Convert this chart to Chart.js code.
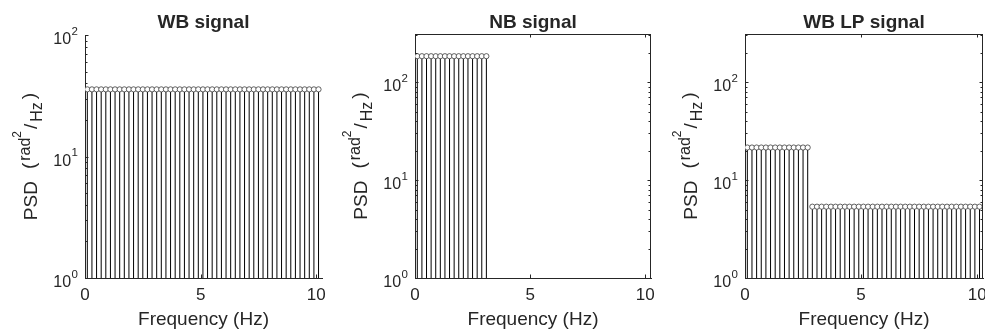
<!DOCTYPE html>
<html>
<head>
<meta charset="utf-8">
<script src="https://cdn.jsdelivr.net/npm/chart.js@4.4.0/dist/chart.umd.min.js"></script>
<style>
  body { margin: 0; background: #fff; }
  #wrap { position: relative; width: 985px; height: 331px; overflow: hidden; }
  canvas { position: absolute; top: 0; }
</style>
</head>
<body>
<div id="wrap">
  <canvas id="wb" width="330" height="331" style="left:0"></canvas>
  <canvas id="nb" width="330" height="331" style="left:330px"></canvas>
  <canvas id="lp" width="325" height="331" style="left:660px"></canvas>
</div>
<script>
// frequency bins (Hz)
var freq = [
  0.1, 0.3, 0.5, 0.7, 0.9, 1.1, 1.3, 1.5, 1.7, 1.9,
  2.1, 2.3, 2.5, 2.7, 2.9, 3.1, 3.3, 3.5, 3.7, 3.9,
  4.1, 4.3, 4.5, 4.7, 4.9, 5.1, 5.3, 5.5, 5.7, 5.9,
  6.1, 6.3, 6.5, 6.7, 6.9, 7.1, 7.3, 7.5, 7.7, 7.9,
  8.1, 8.3, 8.5, 8.7, 8.9, 9.1, 9.3, 9.5, 9.7, 9.9,
  10.1
]
var nbFreq = [0.1, 0.3, 0.5, 0.7, 0.9, 1.1, 1.3, 1.5, 1.7, 1.9, 2.1, 2.3, 2.5, 2.7, 2.9, 3.1]

// PSD values (rad^2/Hz)
var wbPsd = [
  35.7, 35.7, 35.7, 35.7, 35.7, 35.7, 35.7, 35.7, 35.7, 35.7,
  35.7, 35.7, 35.7, 35.7, 35.7, 35.7, 35.7, 35.7, 35.7, 35.7,
  35.7, 35.7, 35.7, 35.7, 35.7, 35.7, 35.7, 35.7, 35.7, 35.7,
  35.7, 35.7, 35.7, 35.7, 35.7, 35.7, 35.7, 35.7, 35.7, 35.7,
  35.7, 35.7, 35.7, 35.7, 35.7, 35.7, 35.7, 35.7, 35.7, 35.7,
  35.7
]
var nbPsd = [184, 184, 184, 184, 184, 184, 184, 184, 184, 184, 184, 184, 184, 184, 184, 184]
var lpPsd = [
  21.5, 21.5, 21.5, 21.5, 21.5, 21.5, 21.5, 21.5, 21.5, 21.5,
  21.5, 21.5, 21.5, 21.5, 5.35, 5.35, 5.35, 5.35, 5.35, 5.35,
  5.35, 5.35, 5.35, 5.35, 5.35, 5.35, 5.35, 5.35, 5.35, 5.35,
  5.35, 5.35, 5.35, 5.35, 5.35, 5.35, 5.35, 5.35, 5.35, 5.35,
  5.35, 5.35, 5.35, 5.35, 5.35, 5.35, 5.35, 5.35, 5.35, 5.35,
  5.35
]

var xTicks = [0, 5, 10]
var titles = ['WB signal', 'NB signal', 'WB LP signal']
var xTitle = 'Frequency (Hz)'

const FONT = '"Liberation Sans", Arial, Helvetica, sans-serif'
const INK = '#262626'

// rotated y label: PSD (rad^2 / Hz), pieces laid out left to right along the text
function drawYLabel(ctx, x, yMid) {
  const parts = [
    { t: 'PSD', size: 19, dy: 0, gap: 12 },
    { t: '(', size: 19, dy: -2, gap: 2 },
    { t: 'rad', size: 16, dy: -7, gap: 0 },
    { t: '2', size: 12, dy: -16, gap: 2 },
    { t: '/', size: 19, dy: 0, gap: 2 },
    { t: 'Hz', size: 16, dy: 5, gap: 3 },
    { t: ')', size: 19, dy: -2, gap: 0 },
  ]
  let total = 0
  parts.forEach(p => {
    ctx.font = p.size + 'px ' + FONT
    p.w = ctx.measureText(p.t).width
    total += p.w + p.gap
  })
  ctx.save()
  ctx.translate(x, yMid)
  ctx.rotate(-Math.PI / 2)
  ctx.fillStyle = INK
  ctx.textAlign = 'left'
  ctx.textBaseline = 'alphabetic'
  let cx = -total / 2
  parts.forEach(p => {
    ctx.font = p.size + 'px ' + FONT
    ctx.fillText(p.t, cx, p.dy)
    cx += p.w + p.gap
  })
  ctx.restore()
}

function decorPlugin(title, yMax, boxed) {
  return {
    id: 'decor',
    afterDraw(chart) {
      const ctx = chart.ctx
      const area = chart.chartArea
      const xs = chart.scales.x
      const ys = chart.scales.y
      ctx.save()
      ctx.strokeStyle = INK
      ctx.fillStyle = INK
      ctx.lineWidth = 1

      // box lines
      if (boxed) {
        ctx.beginPath()
        ctx.moveTo(area.left, Math.round(area.top) + 0.5)
        ctx.lineTo(area.right, Math.round(area.top) + 0.5)
        ctx.moveTo(Math.round(area.right) - 0.5, area.top)
        ctx.lineTo(Math.round(area.right) - 0.5, area.bottom)
        ctx.stroke()
      }

      // inward tick marks
      ctx.beginPath()
      for (let d = 1; d <= 100; d *= 10) {
        for (let m = 1; m <= 9; m++) {
          const v = m * d
          if (v > yMax) continue
          const py = Math.round(ys.getPixelForValue(v)) + 0.5
          const len = m === 1 ? 3.5 : 2.5
          ctx.moveTo(area.left, py)
          ctx.lineTo(area.left + len, py)
          if (boxed) {
            ctx.moveTo(area.right, py)
            ctx.lineTo(area.right - len, py)
          }
        }
      }
      xTicks.forEach(v => {
        const px = Math.round(xs.getPixelForValue(v)) + 0.5
        ctx.moveTo(px, area.bottom)
        ctx.lineTo(px, area.bottom - 3.5)
        if (boxed) {
          ctx.moveTo(px, area.top)
          ctx.lineTo(px, area.top + 3.5)
        }
      })
      ctx.stroke()

      // y tick labels 10^n
      ctx.textBaseline = 'alphabetic'
      for (let e = 0; e <= 2; e++) {
        const v = Math.pow(10, e)
        if (v > yMax) continue
        const py = ys.getPixelForValue(v)
        ctx.font = '11.5px ' + FONT
        const ew = ctx.measureText(String(e)).width
        const right = area.left - 7
        ctx.textAlign = 'left'
        ctx.fillText(String(e), right - ew, py - 0.5)
        ctx.font = '16px ' + FONT
        ctx.textAlign = 'right'
        ctx.fillText('10', right - ew - 0.5, py + 9)
      }

      // title
      const cx = (area.left + area.right) / 2
      ctx.textAlign = 'center'
      ctx.font = 'bold 19px ' + FONT
      ctx.fillText(title, cx, 27.5)

      // x axis title
      ctx.font = '19px ' + FONT
      ctx.fillText(xTitle, cx, 325)

      drawYLabel(ctx, 37, (area.top + area.bottom) / 2)
      ctx.restore()
    }
  }
}

function stemPanel(id, title, f, psd, yMax, top, padRight, boxed) {
  const stems = f.map((x, i) => ({ x: x, y: [1, psd[i]] }))
  const heads = f.map((x, i) => ({ x: x, y: psd[i] }))

  return new Chart(document.getElementById(id), {
    type: 'bar',
    data: {
      datasets: [{
        type: 'scatter',
        data: heads,
        pointRadius: 2.6,
        pointHoverRadius: 2.6,
        pointBackgroundColor: '#ffffff',
        pointBorderColor: '#3c3c3c',
        pointBorderWidth: 0.8,
      }, {
        type: 'bar',
        data: stems,
        barThickness: 1,
        inflateAmount: 0,
        backgroundColor: '#000000',
        borderWidth: 0,
      }]
    },
    options: {
      responsive: false,
      animation: false,
      events: [],
      layout: {
        autoPadding: false,
        padding: { left: 0, top: top, right: padRight, bottom: 0 }
      },
      plugins: {
        legend: { display: false },
        tooltip: { enabled: false },
      },
      scales: {
        x: {
          type: 'linear',
          min: 0,
          max: 10.25,
          offset: false,
          grid: { display: false, drawTicks: false },
          border: { color: INK, width: 1 },
          ticks: {
            stepSize: 5,
            includeBounds: false,
            maxRotation: 0,
            padding: 7,
            color: INK,
            font: { family: FONT, size: 17 },
          },
          afterFit: s => { s.height = 53; s.paddingLeft = 0; s.paddingRight = 0 }
        },
        y: {
          type: 'logarithmic',
          min: 1,
          max: yMax,
          grid: { display: false, drawTicks: false },
          border: { color: INK, width: 1 },
          ticks: { display: false },
          afterFit: s => { s.width = 85; s.paddingTop = 0; s.paddingBottom = 0 }
        }
      }
    },
    plugins: [decorPlugin(title, yMax, boxed)]
  })
}

stemPanel('wb', titles[0], freq, wbPsd, 100, 35, 8, false)
stemPanel('nb', titles[1], nbFreq, nbPsd, 310, 34, 9, true)
stemPanel('lp', titles[2], freq, lpPsd, 310, 34, 2, true)
</script>
</body>
</html>
